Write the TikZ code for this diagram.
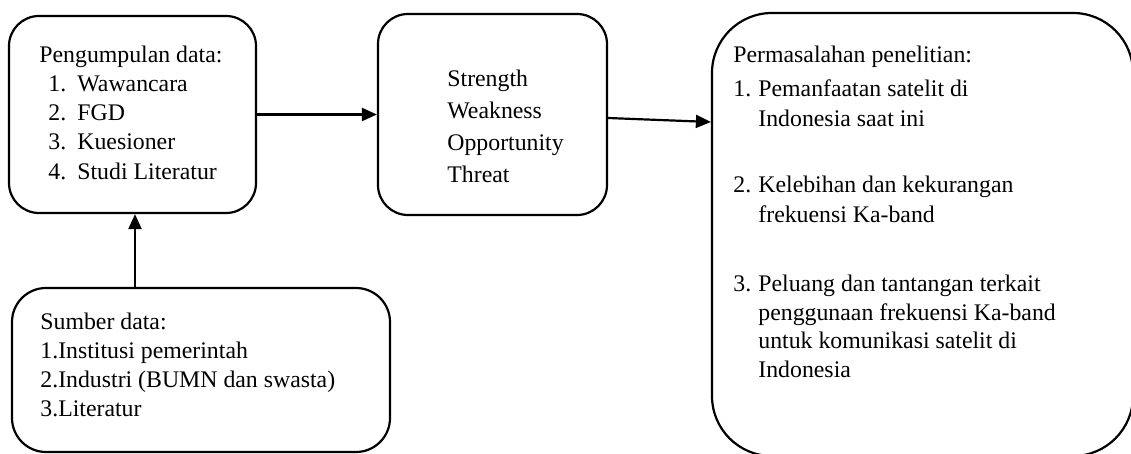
\documentclass[tikz,border=0pt]{standalone}
\usepackage{fontspec}
\setmainfont{Liberation Serif}
\usetikzlibrary{arrows.meta}
\tikzset{
  box/.style={draw=black, line width=1.1pt, rounded corners=#1, inner sep=0pt},
  txt/.style={anchor=base west, inner sep=0pt, font=\fontsize{11.9}{14}\selectfont},
  arr/.style={line width=1.1pt, -{Triangle[length=7.5pt,width=6.5pt]}}
}
\begin{document}
\begin{tikzpicture}[x=0.5pt,y=-0.5pt]
\useasboundingbox (0,0) rectangle (1131,454);
\clip (0,0) rectangle (1131,454);
% boxes
\node[box=15pt, minimum width=123.5pt, minimum height=98.5pt] (b1) at (132.5,114.5) {};
\node[box=15pt, minimum width=114.5pt, minimum height=100.5pt] (b2) at (492.5,114.5) {};
\node[box=30pt, minimum width=210.5pt, minimum height=221.5pt] (b3) at (922.5,234.5) {};
\node[box=17pt, minimum width=189pt, minimum height=82pt] (b4) at (201,370) {};
% box 1 text
\node[txt] (t1h) at (39,63) {Pengumpulan data:};
\node[txt] (t1n1) at (48,92) {1.};
\node[txt] (t1a) at (77,92) {Wawancara};
\node[txt] (t1n2) at (48,121) {2.};
\node[txt] (t1b) at (77,121) {FGD};
\node[txt] (t1n3) at (48,150) {3.};
\node[txt] (t1c) at (77,150) {Kuesioner};
\node[txt] (t1n4) at (48,180) {4.};
\node[txt] (t1d) at (77,180) {Studi Literatur};
% box 2 text
\node[txt] (t2a) at (447,87) {Strength};
\node[txt] (t2b) at (447,119) {Weakness};
\node[txt] (t2c) at (447,151) {Opportunity};
\node[txt] (t2d) at (447,183) {Threat};
% box 3 text
\node[txt] (t3h) at (733,63) {Permasalahan penelitian:};
\node[txt] (t3n1) at (733,97) {1.};
\node[txt] (t3a) at (758,97) {Pemanfaatan satelit di};
\node[txt] (t3a2) at (758,127) {Indonesia saat ini};
\node[txt] (t3n2) at (733,193) {2.};
\node[txt] (t3b) at (758,193) {Kelebihan dan kekurangan};
\node[txt] (t3b2) at (758,223) {frekuensi Ka-band};
\node[txt] (t3n3) at (733,292) {3.};
\node[txt] (t3c) at (758,292) {Peluang dan tantangan terkait};
\node[txt] (t3c2) at (758,321) {penggunaan frekuensi Ka-band};
\node[txt] (t3c3) at (758,349) {untuk komunikasi satelit di};
\node[txt] (t3c4) at (758,378) {Indonesia};
% box 4 text
\node[txt] (t4h) at (40,330) {Sumber data:};
\node[txt] (t4a) at (40,359) {1.Institusi pemerintah};
\node[txt] (t4b) at (40,388) {2.Industri (BUMN dan swasta)};
\node[txt] (t4c) at (40,417) {3.Literatur};
% connectors
\draw[arr] (b1.east) -- (b2.west);
\draw[arr] ([yshift=-1.75pt]b2.east) -- ([yshift=-3.75pt]b2.east -| b3.west);
\draw[arr] ([xshift=1.25pt]b1.south |- b4.north) -- ([xshift=1.25pt]b1.south);
\end{tikzpicture}
\end{document}
